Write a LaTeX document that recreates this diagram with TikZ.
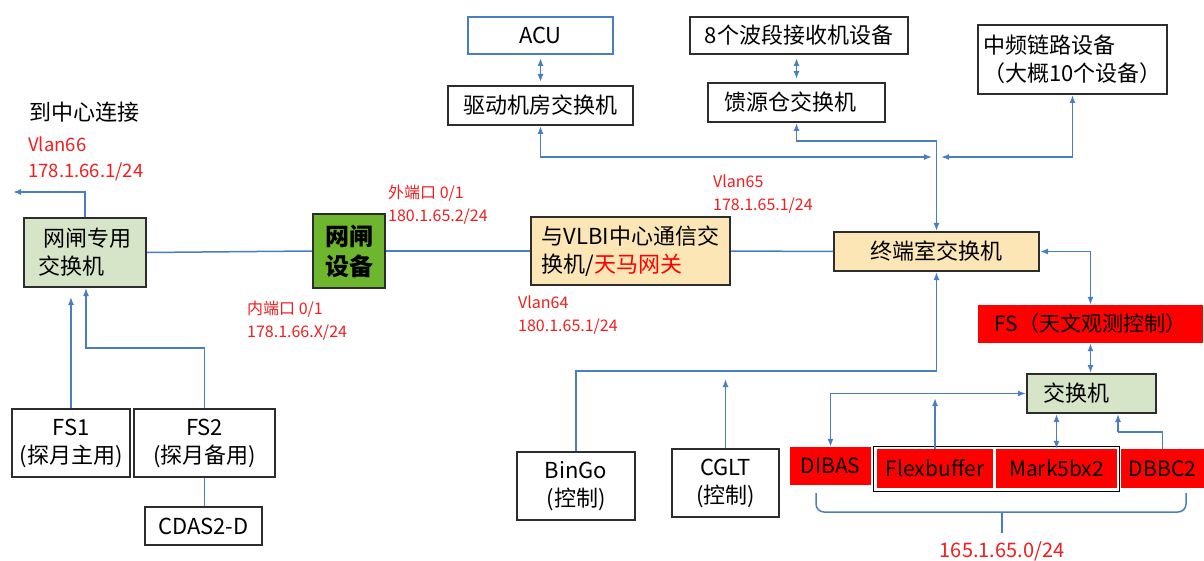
\documentclass[tikz,border=0pt]{standalone}
\usepackage{fontspec}
\setmainfont{Noto Sans CJK SC}
\usetikzlibrary{arrows.meta,calc}
\definecolor{linec}{RGB}{74,126,196}
\definecolor{boxc}{RGB}{45,45,45}
\definecolor{lgreen}{RGB}{214,228,200}
\definecolor{dgreen}{RGB}{110,182,45}
\definecolor{lyellow}{RGB}{252,230,182}
\definecolor{redc}{RGB}{255,0,0}
\definecolor{labred}{RGB}{240,30,30}
\begin{document}
\begin{tikzpicture}[x=1pt,y=-1pt,>={Latex[length=8pt,width=6pt]},
  box/.style={draw=boxc, line width=2pt, inner sep=0pt, align=center, font=\fontsize{22}{28}\selectfont},
  redbox/.style={fill=redc, draw=none, inner sep=0pt, font=\fontsize{21}{24}\selectfont},
  ln/.style={draw=linec, line width=1.5pt},
  lab/.style={text=labred, inner sep=0pt, align=left, anchor=north west, font=\fontsize{16}{23}\selectfont}]
\useasboundingbox (0,0) rectangle (1204,561);

% top row
\node[box, draw=linec, minimum width=145, minimum height=37] (acu) at (540.5,35.5) {ACU};
\node[box, minimum width=185, minimum height=39] (drv) at (540.5,105.5) {驱动机房交换机};
\node[box, minimum width=218, minimum height=37] (bd) at (799,35.5) {8个波段接收机设备};
\node[box, minimum width=177, minimum height=39] (ky) at (796.5,102.5) {馈源仓交换机\hspace*{12pt}};
\node[box, align=left, minimum width=189, minimum height=69] (zp) at (1072.5,59.5) {中频链路设备\\（大概10个设备）};

% middle row
\node[box, fill=lgreen, align=left, minimum width=122, minimum height=69] (wzj) at (85,252.5) {\hspace*{5pt}网闸专用\\交换机};
\node[box, fill=dgreen, minimum width=72, minimum height=74, font=\fontsize{24}{30}\selectfont\bfseries] (wz) at (349,251) {网闸\\设备};
\node[box, fill=lyellow, align=left, minimum width=199, minimum height=68] (vlbi) at (630.5,251) {与VLBI中心通信交\\换机/\textcolor{redc}{天马网关}};
\node[box, fill=lyellow, minimum width=205, minimum height=39] (zd) at (936.5,251.5) {终端室交换机};
\node[redbox, minimum width=225, minimum height=38] (fs) at (1090.5,324) {FS（天文观测控制）};
\node[box, fill=lgreen, minimum width=129, minimum height=39] (sw) at (1091.5,393.5) {交换机\hspace*{30pt}};

% bottom row
\draw[black, line width=0.8pt] (873,446) rectangle (1119,491);
\node[redbox, minimum width=81, minimum height=38] (dibas) at (830.5,466) {DIBAS};
\node[redbox, minimum width=116, minimum height=39] (flex) at (935,468.5) {Flexbuffer};
\node[redbox, minimum width=121, minimum height=39] (mark) at (1056.5,468.5) {Mark5bx2};
\node[redbox, minimum width=83, minimum height=39] (dbbc) at (1162.5,468.5) {DBBC2};

\node[box, minimum width=118, minimum height=68] (fs1) at (71,443) {FS1\\(探月主用)};
\node[box, minimum width=141, minimum height=68] (fs2) at (204.5,443) {FS2\\(探月备用)};
\node[box, minimum width=117, minimum height=38] (cdas) at (203.5,526) {CDAS2-D};
\node[box, minimum width=118, minimum height=68] (bingo) at (576,486) {BinGo\\(控制)};
\node[box, minimum width=107, minimum height=68] (cglt) at (725.5,483) {CGLT\\(控制)};

% texts
\node[inner sep=0pt, font=\fontsize{22}{26}\selectfont] (tcenter) at (84,112) {到中心连接};
\node[lab, font=\fontsize{18.5}{26}\selectfont] (t66) at (28,137) {Vlan66\\178.1.66.1/24};
\node[lab] (tout) at (388,185) {外端口 0/1\\180.1.65.2/24};
\node[lab] (tin) at (247,301) {内端口 0/1\\178.1.66.X/24};
\node[lab] (t64) at (518,296) {Vlan64\\180.1.65.1/24};
\node[lab] (t65) at (713,175) {Vlan65\\178.1.65.1/24};
\node[text=labred, inner sep=0pt, font=\fontsize{20}{24}\selectfont] (t165) at (1002,551) {165.1.65.0/24};

% coordinates
\coordinate (c66) at (13,192);
\coordinate (b1) at (86,348);
\coordinate (j1) at (932,157);
\coordinate (j2) at (941,157);
\coordinate (j3) at (936.5,141);
\coordinate (j4) at (936.5,371);
\coordinate (j5) at (725.5,379);
\coordinate (j6) at (935,398);
\coordinate (j7) at (1118,432);

% connectors
\draw[ln,->] (wzj.north) |- (c66);
\draw[ln] (wzj.east) -- (wz.west);
\draw[ln] (wz.east) -- (vlbi.west);
\draw[ln] (vlbi.east) -- (zd.west);
\draw[ln,->,shorten >=9pt] (fs1.north) -- (fs1.north |- wzj.south);
\draw[ln,->] (fs2.north) |- (b1) -- (b1 |- wzj.south);
\draw[ln] (fs2.south) -- (fs2.south |- cdas.north);
\draw[ln,<->,shorten <=3pt,shorten >=3pt] (acu.south) -- (drv.north);
\draw[ln,<->,shorten <=3pt,shorten >=3pt] (ky.north) -- (ky.north |- bd.south);
\draw[ln,<->] (drv.south) |- (j1);
\draw[ln,<->] (zp.south) |- (j2);
\draw[ln,<->] (ky.south) |- (j3) -- (zd.north);
\draw[ln,<->] (zd.east) -| (fs.north);
\draw[ln,<->] (fs.south) -- (fs.south |- sw.north);
\draw[ln,->] (bingo.north) |- (j4) -- (zd.south);
\draw[ln,->] (cglt.north) -- (j5);
\draw[ln,<->] (sw.west) -| (dibas.north);
\draw[ln,->] (flex.north) -- (j6);
\draw[ln,<->] (mark.north) -- (mark.north |- sw.south);
\draw[ln,->] (j7) -- (j7 |- sw.south);
\draw[ln] (j7) -| (dbbc.north);

% brace
\draw[ln, rounded corners=8pt] (816,493) -- (816,512) -- (1186,512) -- (1186,493);
\draw[ln] (1002,512) -- (1002,533);
\end{tikzpicture}
\end{document}
